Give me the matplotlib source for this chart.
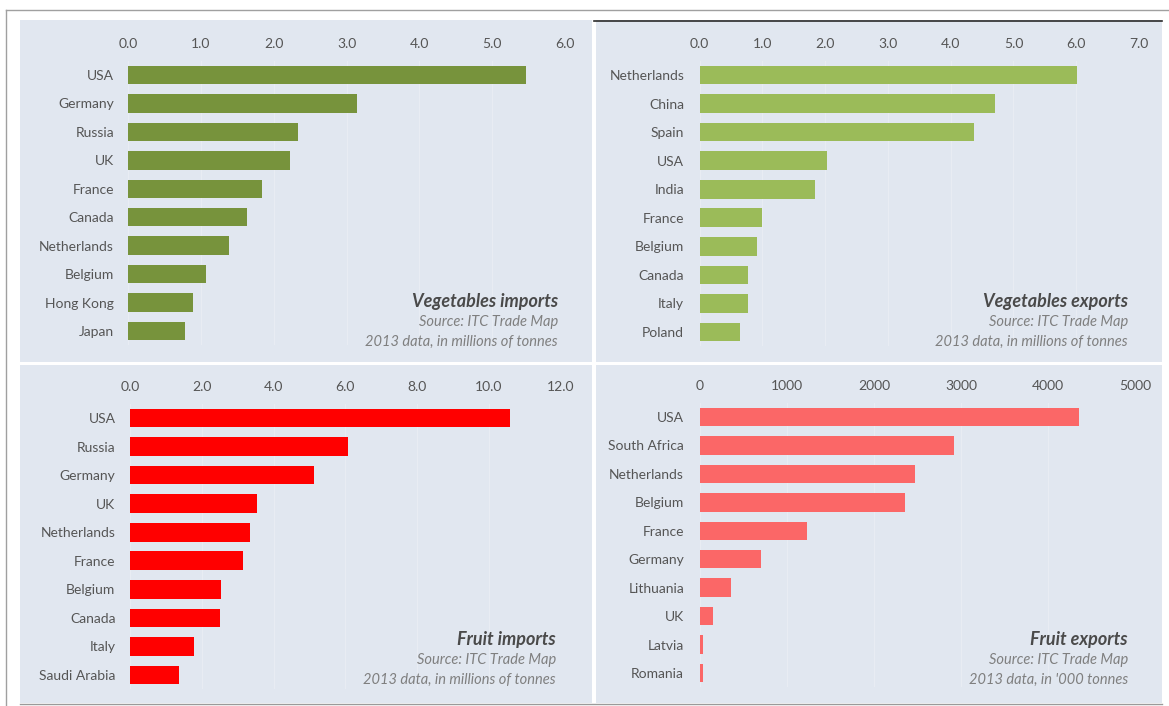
import matplotlib

matplotlib.use("Agg")
import matplotlib.pyplot as plt
from matplotlib.patches import Rectangle
from matplotlib.lines import Line2D

W, H = 1169, 706

veg_imp_countries = ["USA", "Germany", "Russia", "UK", "France", "Canada",
                     "Netherlands", "Belgium", "Hong Kong", "Japan"]
veg_imp_values = [5.47, 3.14, 2.33, 2.22, 1.84, 1.64, 1.39, 1.07, 0.89, 0.78]

veg_exp_countries = ["Netherlands", "China", "Spain", "USA", "India", "France",
                     "Belgium", "Canada", "Italy", "Poland"]
veg_exp_values = [6.02, 4.71, 4.37, 2.03, 1.84, 1.00, 0.92, 0.77, 0.77, 0.64]

fruit_imp_countries = ["USA", "Russia", "Germany", "UK", "Netherlands", "France",
                       "Belgium", "Canada", "Italy", "Saudi Arabia"]
fruit_imp_values = [10.58, 6.08, 5.12, 3.55, 3.34, 3.16, 2.54, 2.52, 1.77, 1.37]

fruit_exp_countries = ["USA", "South Africa", "Netherlands", "Belgium", "France",
                       "Germany", "Lithuania", "UK", "Latvia", "Romania"]
fruit_exp_values = [4356, 2917, 2468, 2355, 1230, 697, 353, 147, 38, 35]

BG = "#e1e7f0"
TEXT = "#555555"
FONT = ["Lato", "DejaVu Sans"]

plt.rcParams["font.family"] = FONT

fig = plt.figure(figsize=(W / 100, H / 100), dpi=100)
fig.patch.set_facecolor("white")


def box(x0, y0, x1, y1):
    # pixel box (top-left origin) -> figure fraction [left, bottom, width, height]
    return [x0 / W, 1 - y1 / H, (x1 - x0) / W, (y1 - y0) / H]


def fig_rect(x0, y0, x1, y1, color):
    l, b, w, h = box(x0, y0, x1, y1)
    fig.add_artist(Rectangle((l, b), w, h, transform=fig.transFigure,
                             facecolor=color, edgecolor="none", zorder=0))


def fig_line(x0, y0, x1, y1, color, lw):
    fig.add_artist(Line2D([x0 / W, x1 / W], [1 - y0 / H, 1 - y1 / H],
                          transform=fig.transFigure, color=color, lw=lw))


# panel backgrounds and frame
fig_rect(20, 20, 592, 362, BG)
fig_rect(596, 20, 1162, 362, BG)
fig_rect(20, 365, 592, 703, BG)
fig_rect(596, 365, 1162, 703, BG)
fig_line(6, 10, 1169, 10, "#a0a0a0", 1.0)
fig_line(6, 10, 6, 706, "#a0a0a0", 1.0)
fig_line(20, 703.5, 1162, 703.5, "#9a9a9a", 1.0)
fig_line(594, 20.5, 1162, 20.5, "#2b2b2b", 1.2)


def panel(x_zero, x_max_px, xmax, y_first, y_last, countries, values, color,
          ticks, ticklabels, title, note, text_x, text_y, ylab_pad):
    step = (y_last - y_first) / (len(countries) - 1)
    top = y_first - step / 2
    bottom = y_last + step / 2
    ax = fig.add_axes(box(x_zero, top, x_max_px, bottom))
    ax.patch.set_alpha(0)
    ax.barh(range(len(countries)), values, height=0.65, color=color, zorder=3)
    ax.set_xlim(0, xmax)
    ax.set_ylim(len(countries) - 0.5, -0.5)
    ax.set_yticks(range(len(countries)))
    ax.set_yticklabels(countries)
    ax.set_xticks(ticks)
    ax.set_xticklabels(ticklabels)
    ax.xaxis.tick_top()
    ax.tick_params(axis="x", length=0, pad=8, labelsize=10, labelcolor=TEXT)
    ax.tick_params(axis="y", length=0, pad=ylab_pad, labelsize=10, labelcolor=TEXT)
    for s in ax.spines.values():
        s.set_visible(False)
    ax.grid(axis="x", color="#e8ecf3", lw=0.8, zorder=1)
    ax.set_axisbelow(True)

    tx = text_x / W
    fig.text(tx, 1 - text_y / H, title, ha="right", va="center",
             fontsize=13, fontweight="bold", fontstyle="italic", color="#4a4a4a")
    fig.text(tx, 1 - (text_y + 20) / H, "Source: ITC Trade Map", ha="right",
             va="center", fontsize=10.5, fontstyle="italic", color="#7f7f7f")
    fig.text(tx, 1 - (text_y + 40) / H, note, ha="right", va="center",
             fontsize=10.5, fontstyle="italic", color="#7f7f7f")
    return ax


panel(128, 565, 6.0, 75, 331, veg_imp_countries, veg_imp_values, "#77933c",
      [0, 1, 2, 3, 4, 5, 6], ["0.0", "1.0", "2.0", "3.0", "4.0", "5.0", "6.0"],
      "Vegetables imports", "2013 data, in millions of tonnes", 558, 302, 10)

panel(699.5, 1139, 7.0, 75, 332, veg_exp_countries, veg_exp_values, "#9bbb59",
      [0, 1, 2, 3, 4, 5, 6, 7],
      ["0.0", "1.0", "2.0", "3.0", "4.0", "5.0", "6.0", "7.0"],
      "Vegetables exports", "2013 data, in millions of tonnes", 1128, 302, 11)

panel(130, 560.6, 12.0, 418, 675, fruit_imp_countries, fruit_imp_values, "#ff0000",
      [0, 2, 4, 6, 8, 10, 12], ["0.0", "2.0", "4.0", "6.0", "8.0", "10.0", "12.0"],
      "Fruit imports", "2013 data, in millions of tonnes", 556, 640, 10.5)

panel(700, 1134.8, 5000, 417, 673, fruit_exp_countries, fruit_exp_values, "#fb6767",
      [0, 1000, 2000, 3000, 4000, 5000],
      ["0", "1000", "2000", "3000", "4000", "5000"],
      "Fruit exports", "2013 data, in '000 tonnes", 1128, 640, 11.5)

fig.savefig("out.png", dpi=100, facecolor=fig.get_facecolor())
